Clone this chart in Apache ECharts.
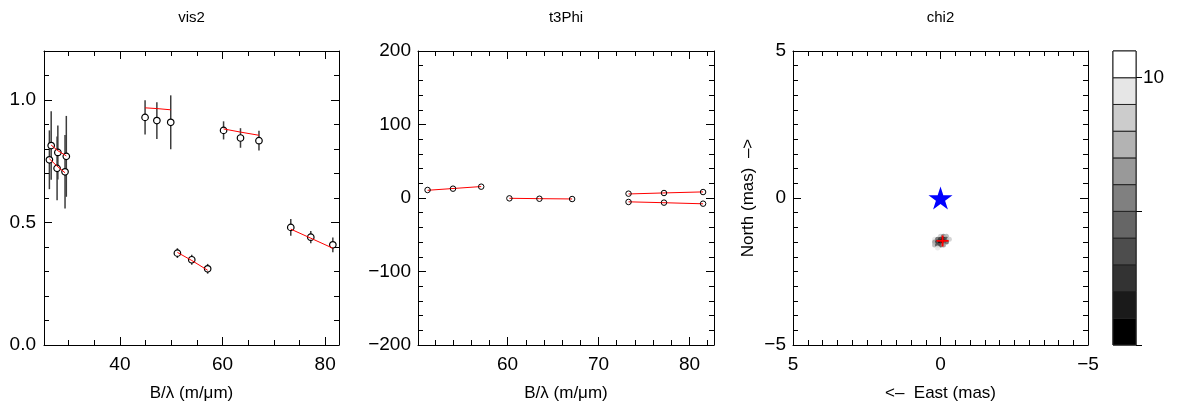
<!DOCTYPE html>
<html><head><meta charset="utf-8">
<script src="https://cdn.jsdelivr.net/npm/echarts@6/dist/echarts.min.js"></script>
<style>html,body{margin:0;padding:0;background:#fff}#c{width:1178px;height:406px}</style>
</head><body><div id="c"></div>
<script>
// ---------- vis2 panel ----------
const vis2X     = [26.6, 27.9, 29.55, 26.25, 27.75, 29.3, 44.9, 47.2, 49.9, 51.2, 54.0, 57.1, 60.2, 63.5, 67.1, 73.3, 77.2, 81.5];
const vis2Y     = [0.814, 0.786, 0.770, 0.756, 0.721, 0.707, 0.929, 0.916, 0.909, 0.375, 0.348, 0.311, 0.876, 0.845, 0.834, 0.480, 0.440, 0.409];
const vis2Err   = [0.14, 0.11, 0.165, 0.12, 0.13, 0.15, 0.07, 0.075, 0.11, 0.02, 0.02, 0.02, 0.037, 0.04, 0.04, 0.034, 0.025, 0.03];
const vis2Model = [0.816, 0.793, 0.772, 0.760, 0.730, 0.703, 0.968, 0.965, 0.960, 0.378, 0.345, 0.305, 0.882, 0.869, 0.856, 0.473, 0.436, 0.395];
const vis2Group = [0, 0, 0, 1, 1, 1, 2, 2, 2, 3, 3, 3, 4, 4, 4, 5, 5, 5];
const vis2XTicks = [40, 60, 80];
const vis2XMinor = [30, 35, 45, 50, 55, 65, 70, 75];
const vis2YTicks = [0, 0.5, 1.0];
const vis2YMinor = [0.1, 0.2, 0.3, 0.4, 0.6, 0.7, 0.8, 0.9, 1.1];

// ---------- t3Phi panel ----------
const t3X     = [51.2, 54.0, 57.1, 60.2, 63.5, 67.1, 73.3, 77.2, 81.5, 73.3, 77.2, 81.5];
const t3Y     = [10.9, 12.7, 15.4, -0.5, -1.0, -1.4, 5.9, 6.8, 8.1, -5.4, -6.3, -7.7];
const t3Model = [10.5, 12.9, 15.6, -0.4, -0.9, -1.3, 5.5, 6.9, 8.3, -5.2, -6.4, -7.9];
const t3Group = [0, 0, 0, 1, 1, 1, 2, 2, 2, 3, 3, 3];
const t3XTicks = [60, 70, 80];
const t3XMinor = [52, 54, 56, 58, 62, 64, 66, 68, 72, 74, 76, 78, 82];
const t3YTicks = [-200, -100, 0, 100, 200];
const t3YMinor = [-180, -160, -140, -120, -80, -60, -40, -20, 20, 40, 60, 80, 120, 140, 160, 180];

// ---------- chi2 map panel ----------
const mapTicks = [-5, 0, 5];
const mapMinor = [-4.5, -4, -3.5, -3, -2.5, -2, -1.5, -1, -0.5, 0.5, 1, 1.5, 2, 2.5, 3, 3.5, 4, 4.5];
const starPos = [0, 0];
const bestPos = [-0.07, -1.46];
const blobX    = [0.0, -0.1, -0.2, 0.2, 0.1, 0.0, -0.1, -0.2, -0.3, 0.2, 0.1, 0.0, -0.1, -0.2, 0.2, 0.1, 0.0, -0.1, 0.1];
const blobY    = [-1.3, -1.3, -1.3, -1.4, -1.4, -1.4, -1.4, -1.4, -1.4, -1.5, -1.5, -1.5, -1.5, -1.5, -1.6, -1.6, -1.6, -1.6, -1.7];
const blobChi2 = [8, 5, 7, 9, 4, 2, 1, 3, 8, 6, 2, 0, 0, 4, 7, 3, 3, 6, 9];

// ---------- colour bar ----------
const cbLevels = [0, 1, 2, 3, 4, 5, 6, 7, 8, 9, 10];
const cbColors = ['#000000', '#1a1a1a', '#333333', '#4d4d4d', '#666666', '#808080', '#999999', '#b3b3b3', '#cccccc', '#e6e6e6', '#ffffff'];
const cbTicks = [0, 5, 10];
const cbLabels = [10];

const FONT = 'Liberation Sans, Arial, Helvetica, sans-serif';
const minusFmt = v => (v < 0 ? '\u2212' + Math.abs(v) : String(v));

function axes(dim, grid, min, max, majors, minors, o) {
  const pos = dim === 'x' ? ['bottom', 'top'] : ['left', 'right'];
  const list = [];
  pos.forEach((p, side) => {
    [majors, minors].forEach((vals, k) => {
      const main = side === 0 && k === 0;
      list.push({
        type: 'value', gridIndex: grid, position: p, min: min, max: max,
        inverse: !!o.inverse,
        axisLine: { show: k === 0, onZero: false, lineStyle: { color: '#000', width: 1 } },
        splitLine: { show: false },
        axisTick: { show: true, inside: true, length: k === 0 ? 8 : 5, customValues: vals,
                    lineStyle: { color: '#000', width: 1 } },
        axisLabel: { show: main, customValues: majors, formatter: o.fmt, fontSize: 19,
                     margin: o.margin, color: '#000', fontFamily: FONT },
        name: main ? o.name : '', nameLocation: 'middle', nameGap: o.nameGap || 0,
        nameRotate: o.nameRotate, nameMoveOverlap: false,
        nameTextStyle: { fontSize: 17, color: '#000', fontFamily: FONT },
        z: 5
      });
    });
  });
  return list;
}

const xAxis = [].concat(
  axes('x', 0, 25.2, 82.7, vis2XTicks, vis2XMinor, { fmt: minusFmt, margin: 10, name: 'B/\u03bb (m/\u03bcm)', nameGap: 40 }),
  axes('x', 1, 50.15, 82.7, t3XTicks, t3XMinor, { fmt: minusFmt, margin: 10, name: 'B/\u03bb (m/\u03bcm)', nameGap: 40 }),
  axes('x', 2, -5, 5, mapTicks, mapMinor, { fmt: minusFmt, margin: 10, inverse: true, name: '<\u2013  East (mas)', nameGap: 40 }),
  [{ type: 'category', gridIndex: 3, data: ['cb'], show: false }]
);
const yAxis = [].concat(
  axes('y', 0, 0, 1.2, vis2YTicks, vis2YMinor, { fmt: v => v.toFixed(1), margin: 8 }),
  axes('y', 1, -200, 200, t3YTicks, t3YMinor, { fmt: minusFmt, margin: 7 }),
  axes('y', 2, -5, 5, mapTicks, mapMinor, { fmt: minusFmt, margin: 7, name: 'North (mas)  \u2013>', nameGap: 36, nameRotate: 90 }),
  [{ type: 'value', gridIndex: 3, position: 'right', min: 0, max: 11,
     axisLine: { show: false }, splitLine: { show: false },
     axisTick: { show: true, inside: false, length: 6, customValues: cbTicks, lineStyle: { color: '#000' } },
     axisLabel: { show: true, customValues: cbLabels, margin: 7, fontSize: 19, color: '#000', fontFamily: FONT } }]
);

const series = [];
// error bars (vis2)
series.push({
  type: 'custom', xAxisIndex: 0, yAxisIndex: 0, z: 2, clip: true,
  data: vis2X.map((x, i) => [x, vis2Y[i] - vis2Err[i], vis2Y[i] + vis2Err[i]]),
  encode: { x: 0, y: [1, 2] },
  renderItem: (params, api) => {
    const a = api.coord([api.value(0), api.value(1)]);
    const b = api.coord([api.value(0), api.value(2)]);
    return { type: 'line', shape: { x1: a[0], y1: a[1], x2: b[0], y2: b[1] },
             style: { stroke: '#3c3c3c', lineWidth: 1.5 } };
  }
});
// vis2 points
series.push({
  type: 'scatter', xAxisIndex: 0, yAxisIndex: 0, z: 3, symbol: 'circle', symbolSize: 6.5,
  itemStyle: { color: '#fff', borderColor: '#000', borderWidth: 1.2, opacity: 1 },
  data: vis2X.map((x, i) => [x, vis2Y[i]])
});
// vis2 model lines
[...new Set(vis2Group)].forEach(g => {
  series.push({
    type: 'line', xAxisIndex: 0, yAxisIndex: 0, z: 4, showSymbol: false, symbol: 'none',
    lineStyle: { color: '#ff0000', width: 1 },
    data: vis2X.map((x, i) => [x, vis2Model[i], vis2Group[i]]).filter(d => d[2] === g).map(d => [d[0], d[1]])
  });
});
// t3phi model lines
[...new Set(t3Group)].forEach(g => {
  series.push({
    type: 'line', xAxisIndex: 4, yAxisIndex: 4, z: 3, showSymbol: false, symbol: 'none',
    lineStyle: { color: '#ff0000', width: 1 },
    data: t3X.map((x, i) => [x, t3Model[i], t3Group[i]]).filter(d => d[2] === g).map(d => [d[0], d[1]])
  });
});
// t3phi points
series.push({
  type: 'scatter', xAxisIndex: 4, yAxisIndex: 4, z: 4, symbol: 'circle', symbolSize: 5.5,
  itemStyle: { color: 'rgba(255,255,255,0)', borderColor: '#000', borderWidth: 1, opacity: 1 },
  data: t3X.map((x, i) => [x, t3Y[i]])
});
// chi2 blob
const blobIndex = series.length;
series.push({
  type: 'scatter', xAxisIndex: 8, yAxisIndex: 8, z: 2, symbol: 'circle', symbolSize: 5,
  itemStyle: { opacity: 0.85 },
  data: blobX.map((x, i) => [x, blobY[i], blobChi2[i]])
});
// star
series.push({
  type: 'scatter', xAxisIndex: 8, yAxisIndex: 8, z: 4,
  symbol: 'path://M50 0 L61.23 34.55 L97.55 34.55 L68.16 55.9 L79.39 90.45 L50 69.1 L20.61 90.45 L31.84 55.9 L2.45 34.55 L38.77 34.55 Z',
  symbolSize: [24, 23], itemStyle: { color: '#0000ff', opacity: 1 },
  data: [starPos]
});
// best-fit cross
series.push({
  type: 'scatter', xAxisIndex: 8, yAxisIndex: 8, z: 5,
  symbol: 'path://M4.2 0 H5.8 V4.2 H10 V5.8 H5.8 V10 H4.2 V5.8 H0 V4.2 H4.2 Z',
  symbolSize: [12, 11], itemStyle: { color: '#ff0000', opacity: 1 },
  data: [bestPos]
});
// colour bar
series.push({
  type: 'custom', xAxisIndex: 12, yAxisIndex: 12, z: 2,
  data: cbLevels.map(k => [0, k, k + 1]),
  encode: { x: 0, y: [1, 2] },
  renderItem: (params, api) => {
    const lo = api.coord([0, api.value(1)]);
    const hi = api.coord([0, api.value(2)]);
    const w = api.size([1, 0])[0];
    return { type: 'rect', shape: { x: lo[0] - w / 2, y: hi[1], width: w, height: lo[1] - hi[1] },
             style: { fill: cbColors[params.dataIndex], stroke: '#222', lineWidth: 1 } };
  }
});

const titleStyle = { fontSize: 15, fontWeight: 'normal', color: '#000', fontFamily: FONT };
const option = {
  animation: false,
  backgroundColor: '#fff',
  textStyle: { fontFamily: FONT },
  title: [
    { text: 'vis2', left: 191.5, top: 10, padding: 0, textAlign: 'center', textStyle: titleStyle },
    { text: 't3Phi', left: 566, top: 10, padding: 0, textAlign: 'center', textStyle: titleStyle },
    { text: 'chi2', left: 940.5, top: 10, padding: 0, textAlign: 'center', textStyle: titleStyle }
  ],
  grid: [
    { left: 44, top: 51, width: 295, height: 294, outerBoundsMode: 'none', containLabel: false },
    { left: 418, top: 51, width: 296, height: 294, outerBoundsMode: 'none', containLabel: false },
    { left: 793, top: 51, width: 295, height: 294, outerBoundsMode: 'none', containLabel: false },
    { left: 1113, top: 51, width: 23, height: 294, outerBoundsMode: 'none', containLabel: false,
      show: true, borderColor: '#000', borderWidth: 1, backgroundColor: 'transparent' }
  ],
  visualMap: [{
    type: 'piecewise', show: false, seriesIndex: blobIndex, dimension: 2,
    pieces: cbLevels.map(k => ({ gte: k, lt: k + 1, color: cbColors[k] }))
  }],
  xAxis: xAxis,
  yAxis: yAxis,
  series: series
};

const chart = echarts.init(document.getElementById('c'), null, { renderer: 'canvas' });
chart.setOption(option);
</script>
</body></html>
